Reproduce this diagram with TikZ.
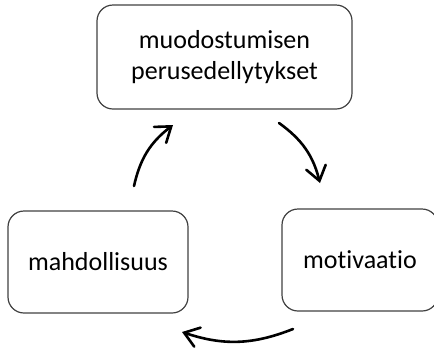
\documentclass[tikz,border=0pt]{standalone}
\usepackage{fontspec}
\setmainfont{Carlito}[Ligatures=NoCommon]
\usetikzlibrary{arrows.meta}
\begin{document}
\begin{tikzpicture}[x=1bp,y=-1bp,
  box/.style={draw=black!75, line width=1.2bp, rounded corners=16bp,
    inner sep=0pt, align=center, font=\fontsize{26bp}{31bp}\selectfont},
  flow/.style={line width=2.6bp, line cap=round,
    -{Straight Barb[length=14bp,width=20bp,line cap=round]}, bend left=20}]
\useasboundingbox (0,0) rectangle (434,347);

% the three stages
\node[box, minimum width=255bp, minimum height=104bp] (cond) at (224.5,57)
  {muodostumisen\\perusedellytykset};
\node[box, minimum width=180bp, minimum height=102bp] (poss) at (98,262)
  {mahdollisuus};
\node[box, minimum width=156bp, minimum height=102bp] (motiv) at (360,260)
  {motivaatio};

% arrow end points
\coordinate (upS) at (134,186);
\coordinate (upE) at (173,125);
\coordinate (dnS) at (279,123);
\coordinate (dnE) at (320,183);
\coordinate (bkS) at (293,329);
\coordinate (bkE) at (182,332);

% cycle arrows
\draw[flow] (upS) to (upE);
\draw[flow] (dnS) to (dnE);
\draw[flow] (bkS) to (bkE);
\end{tikzpicture}
\end{document}
